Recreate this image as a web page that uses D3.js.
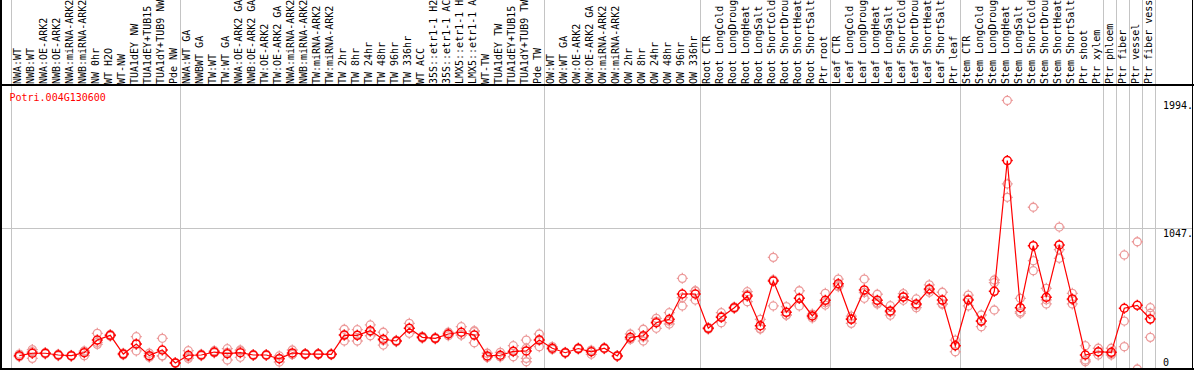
<!DOCTYPE html>
<html><head><meta charset="utf-8">
<script src="https://cdn.jsdelivr.net/npm/d3@7"></script>
<style>html,body{margin:0;padding:0;background:#fff;overflow:hidden}</style>
</head><body>
<svg id="chart" width="1194" height="370"></svg>
<script>
const geneId = "Potri.004G130600";
const conditions = [
"NWA:WT","NWB:WT","NWA:OE-ARK2","NWB:OE-ARK2","NWA:miRNA-ARK2","NWB:miRNA-ARK2","NW 0hr","WT H2O","WT-NW","TUA1dEY NW","TUA1dEY+TUB15 NW","TUA1dY+TUB9 NW","Pde NW",
"NWA:WT GA","NWBWT GA","TW:WT","TW:WT GA","NWA:OE-ARK2 GA","NWB:OE-ARK2 GA","TW:OE-ARK2","TW:OE-ARK2 GA","NWA:miRNA-ARK2 GA","NWB:miRNA-ARK2 GA","TW:miRNA-ARK2","TW:miRNA-ARK2 GA","TW 2hr","TW 8hr","TW 24hr","TW 48hr","TW 96hr","TW 336hr","WT ACC","35S::etr1-1 H2O","35S::etr1-1 ACC","LMX5::etr1-1 H2O","LMX5::etr1-1 ACC","WT-TW","TUA1dEY TW","TUA1dEY+TUB15 TW","TUA1dY+TUB9 TW","Pde TW",
"OW:WT","OW:WT GA","OW:OE-ARK2","OW:OE-ARK2 GA","OW:miRNA-ARK2","OW:miRNA-ARK2 GA","OW 2hr","OW 8hr","OW 24hr","OW 48hr","OW 96hr","OW 336hr",
"Root CTR","Root LongCold","Root LongDrought","Root LongHeat","Root LongSalt","Root ShortCold","Root ShortDrought","Root ShortHeat","Root ShortSalt","Ptr root",
"Leaf CTR","Leaf LongCold","Leaf LongDrought","Leaf LongHeat","Leaf LongSalt","Leaf ShortCold","Leaf ShortDrought","Leaf ShortHeat","Leaf ShortSalt","Ptr leaf",
"Stem CTR","Stem LongCold","Stem LongDrought","Stem LongHeat","Stem LongSalt","Stem ShortCold","Stem ShortDrought","Stem ShortHeat","Stem ShortSalt","Ptr shoot","Ptr xylem",
"Ptr phloem","Ptr fiber","Ptr vessel","Ptr fiber vessel"
];
const groupSizes = [13, 28, 12, 10, 10, 11, 1, 1, 1, 1];
const meanValues = [
99,117,117,104,99,121,215,250,111,186,99,141,45,
102,104,126,114,121,104,104,76,119,111,111,109,252,250,284,221,208,302,235,228,260,273,252,97,102,131,134,215,
154,121,152,128,154,97,235,247,344,369,557,557,
302,384,455,542,322,653,421,525,394,510,
633,369,587,510,431,535,483,594,512,173,
512,356,577,1548,455,916,532,921,520,104,128,
124,451,473,371
];
const replicates = [
[111,91,95],[128,79,144],[117,122,112],[104,110,98],[99,95,103],[134,99,130],[265,183,197],[250,256,244],[111,105,117],[240,134,184],[117,87,93],[228,99,96],[45,42,48],
[136,91,79],[104,110,98],[136,121,121],[151,67,124],[141,87,135],[104,100,108],[104,108,100],[97,52,79],[141,108,108],[111,115,107],[111,107,115],[109,105,113],[295,208,253],[208,250,292],[327,247,278],[273,178,212],[208,213,203],[339,265,302],[235,242,228],[228,233,223],[273,247,260],[314,252,253],[277,195,284],[117,87,87],[124,91,91],[173,91,129],[215,154,79,54],[260,166,219],
[166,150,146],[121,125,117],[152,157,147],[109,140,135],[154,150,158],[97,93,101],[260,225,220],[295,208,238],[376,302,354],[418,334,355],[673,468,530],[581,512,578],
[302,296,308],[418,344,390],[455,461,449],[574,500,552],[369,300,297],[829,468,662],[463,401,399],[581,468,526],[408,379,395],[562,475,493],
[668,611,620],[339,375,393],[668,525,568],[555,483,492],[470,400,423],[560,510,535],[520,455,474],[625,570,587],[570,480,486],[215,128,176],
[549,468,519],[401,314,353],[661,641,438],[1994,1374,1275],[525,414,426],[1201,804,730],[599,483,514],[1054,822,887],[562,483,515],[173,67,54],[154,104,126],
[154,104,114],[847,356,166],[945,0],[455,414,235]
];
const tickValues = [0, 1047, 1994];
const tickLabels = ["0", "1047.", "1994."];
const gridValues = [1047];

const W = 1194, H = 370;
const font = "'DejaVu Sans Mono', monospace";
const svg = d3.select("#chart");
const idx = d3.range(conditions.length);
const x = d3.scaleBand().domain(idx).range([11, 11 + 13 * conditions.length]).paddingInner(0).paddingOuter(0);
const px = i => x(i) + 8.3;
const y = d3.scaleLinear().domain([0, 2094]).range([369, 87]);

// horizontal grid
svg.append("g").selectAll("line").data(gridValues).join("line")
  .attr("x1", 1).attr("x2", W - 1)
  .attr("y1", d => Math.round(y(d)) + 0.5).attr("y2", d => Math.round(y(d)) + 0.5)
  .attr("stroke", "#c4c4c4").attr("stroke-width", 1).attr("shape-rendering", "crispEdges");

// group separators
const starts = [0];
groupSizes.forEach(s => starts.push(starts[starts.length - 1] + s));
svg.append("g").selectAll("line").data(starts).join("line")
  .attr("x1", d => (d < conditions.length ? x(d) : x(conditions.length - 1) + x.step()) + 0.5)
  .attr("x2", d => (d < conditions.length ? x(d) : x(conditions.length - 1) + x.step()) + 0.5)
  .attr("y1", 0).attr("y2", H)
  .attr("stroke", "#c4c4c4").attr("stroke-width", 1).attr("shape-rendering", "crispEdges");

// marker shape
const mk = "M4,0A4,4 0 1,1 -4,0A4,4 0 1,1 4,0M0,-4V-5.5M0,4V5.5M-4,0H-5.5M4,0H5.5";

// replicate markers
const repPts = [];
replicates.forEach((arr, i) => arr.forEach(v => repPts.push({i, v})));
svg.append("g").selectAll("path").data(repPts).join("path")
  .attr("d", mk)
  .attr("transform", d => `translate(${px(d.i)},${y(d.v)})`)
  .attr("fill", "none").attr("stroke", "#ec9a9a").attr("stroke-width", 1.3);

// mean line
const line = d3.line().x((d, i) => px(i)).y(d => y(d));
svg.append("path").datum(meanValues).attr("d", line)
  .attr("fill", "none").attr("stroke", "#ff0000").attr("stroke-width", 1.2);

// mean markers
svg.append("g").selectAll("path").data(meanValues).join("path")
  .attr("d", mk)
  .attr("transform", (d, i) => `translate(${px(i)},${y(d)})`)
  .attr("fill", "none").attr("stroke", "#ff0000").attr("stroke-width", 1.5);

// frame
const frame = svg.append("g").attr("stroke", "#000").attr("stroke-width", 1.5).attr("shape-rendering", "crispEdges");
frame.append("line").attr("x1", 1).attr("x2", 1).attr("y1", 0).attr("y2", H);
frame.append("line").attr("x1", W - 1.5).attr("x2", W - 1.5).attr("y1", 0).attr("y2", H);
frame.append("line").attr("x1", 0).attr("x2", W).attr("y1", 85).attr("y2", 85);
frame.append("line").attr("x1", 0).attr("x2", W).attr("y1", 369).attr("y2", 369);

// condition labels
svg.append("g").selectAll("text").data(conditions).join("text")
  .attr("transform", (d, i) => `translate(${px(i) + 2},84) rotate(-90)`)
  .attr("font-family", font).attr("font-size", 10).attr("fill", "#000")
  .text(d => d);

// title
svg.append("text").attr("x", 9.5).attr("y", 101)
  .attr("font-family", font).attr("font-size", 10).attr("fill", "#ff0000").text(geneId);

// y tick labels
svg.append("g").selectAll("text").data(tickValues).join("text")
  .attr("x", 1163).attr("y", d => Math.min(y(d) + 9, 366))
  .attr("font-family", font).attr("font-size", 10).attr("fill", "#000")
  .text((d, i) => tickLabels[i]);
</script>
</body></html>
